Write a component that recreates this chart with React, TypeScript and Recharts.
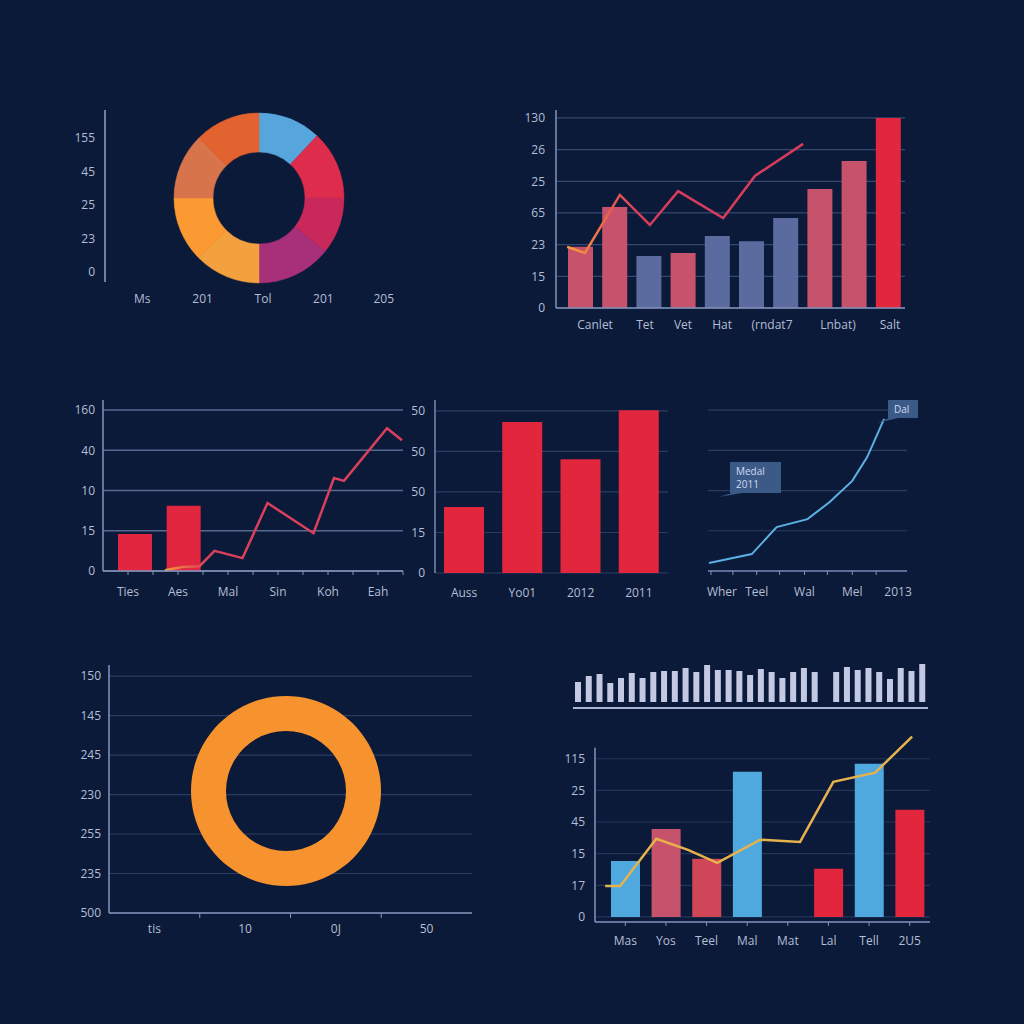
import React from "react";
import {
  ComposedChart,
  BarChart,
  Bar,
  Line,
  XAxis,
  YAxis,
  CartesianGrid,
  Cell,
  PieChart,
  Pie,
  ReferenceLine,
} from "recharts";

const BG = "#0b1a38";
const TXT = "#b4bed6";
const AXIS = "#8393bb";
const GRID = "#2a3c64";
const FONT = "'Open Sans', 'Noto Sans', sans-serif";

// top-left donut panel
const p1Slices = [43, 47, 39, 51, 45, 45, 45, 45];
const p1Colors = ["#56a5dc", "#de2c4c", "#c8285a", "#a8307a", "#f3a03e", "#fb9a32", "#d8744c", "#e2632f"];
const p1YLabels = ["0", "23", "25", "45", "155"];
const p1XLabels = ["Ms", "201", "Tol", "201", "205"];

// top-right bars + line
const p2Bars = [1.93, 3.19, 1.64, 1.74, 2.27, 2.11, 2.84, 3.76, 4.64, 6.0];
const p2Kinds = ["rose", "rose", "slate", "rose", "slate", "slate", "slate", "rose", "rose", "red"];
const p2LineX = [0.32, 0.83, 1.83, 2.69, 3.5, 4.79, 5.7, 7.08];
const p2LineY = [1.93, 1.74, 3.57, 2.62, 3.69, 2.84, 4.17, 5.18];
const p2XLabels = ["Canlet", "Tet", "Vet", "Hat", "(rndat7", "Lnbat)", "Salt"];
const p2XLabelPos = [1.12, 2.55, 3.64, 4.76, 6.19, 8.08, 9.57];
const p2YLabels = ["0", "15", "23", "65", "25", "26", "130"];

// middle-left bars + line
const p3Cats = ["Ties", "Aes", "Mal", "Sin", "Koh", "Eah"];
const p3Bars = [0.92, 1.62, 0, 0, 0, 0];
const p3LineX = [1.24, 1.59, 1.93, 2.23, 2.79, 3.29, 4.21, 4.62, 4.82, 5.68, 5.98];
const p3LineY = [0.02, 0.1, 0.12, 0.5, 0.32, 1.69, 0.94, 2.31, 2.24, 3.55, 3.25];
const p3YLabels = ["0", "15", "10", "40", "160"];

// middle bars
const p4Cats = ["Auss", "Yo01", "2012", "2011"];
const p4Vals = [1.63, 3.73, 2.81, 4.02];
const p4YLabels = ["0", "15", "50", "50", "50"];

// middle-right line
const p5LineX = [0.05, 2.2, 3.45, 5.0, 6.1, 7.25, 8.0, 8.85];
const p5LineY = [0.2, 0.42, 1.09, 1.29, 1.71, 2.24, 2.83, 3.78];
const p5TickPos = [0.15, 0.7, 1.25, 2.45, 3.6, 4.85, 6.0, 7.25, 8.45, 9.55];
const p5TickLabels = ["", "Wher", "", "Teel", "", "Wal", "", "Mel", "", "2013"];
const p5TickMarks = [true, false, true, true, true, true, true, true, true, false];

// bottom-left ring
const p6YLabels = ["500", "235", "255", "230", "245", "145", "150"];
const p6XLabels = ["tis", "10", "0J", "50"];
const p6Ring = [1];

// bottom-right strip
const p7Strip = [20, 26, 28, 19, 24, 29, 24, 30, 31, 31, 34, 30, 37, 32, 32, 31, 27, 33, 30, 24, 30, 34, 30, 0, 30, 35, 32, 34, 30, 23, 34, 31, 38];

// bottom-right bars + line
const p7Cats = ["Mas", "Yos", "Teel", "Mal", "Mat", "Lal", "Tell", "2U5"];
const p7Vals = [1.77, 2.78, 1.84, 4.59, 0, 1.52, 4.84, 3.39];
const p7Kinds = ["blue", "rose", "rose2", "blue", "blue", "red", "blue", "red"];
const p7LineX = [0, 0.37, 1.26, 2.04, 2.76, 3.82, 4.8, 5.62, 6.65, 7.56];
const p7LineY = [0.98, 0.98, 2.47, 2.12, 1.71, 2.44, 2.37, 4.27, 4.56, 5.7];
const p7YLabels = ["0", "17", "15", "45", "25", "115"];

const kindColor: Record<string, string> = {
  rose: "#c6526b",
  slate: "#5b6b9f",
  red: "#e2263e",
  rose2: "#cf4659",
  blue: "#4fa9df",
};

const tickStyle = { fill: TXT, fontSize: 12 };

function bottomTick(labels: string[], marks: boolean[], back: number, markLen: number) {
  return (props: any) => {
    const { x, y, index } = props;
    const label = labels[index] || "";
    const ay = y - back;
    return (
      <g>
        {marks[index] ? <line x1={x} x2={x} y1={ay} y2={ay + markLen} stroke={AXIS} strokeWidth={1} /> : null}
        {label ? (
          <text x={x} y={y} dy="0.71em" textAnchor="middle" fill={TXT} fontSize={12}>
            {label}
          </text>
        ) : null}
      </g>
    );
  };
}

const Box = ({ x, y, children }: { x: number; y: number; children: React.ReactNode }) => (
  <div style={{ position: "absolute", left: x, top: y }}>{children}</div>
);

function Panel1() {
  const data = p1XLabels.map((_, i) => ({ k: i, z: 0 }));
  return (
    <>
      <Box x={60} y={100}>
        <ComposedChart width={360} height={220} data={data} margin={{ top: 10, right: 6, bottom: 8, left: 0 }}>
          <XAxis dataKey="k" type="category" scale="band" height={30} axisLine={false} tickLine={false}
            tickMargin={6} padding={{ left: 7, right: 0 }} interval={0} tick={tickStyle}
            tickFormatter={(_v, i) => p1XLabels[i]} />
          <YAxis type="number" width={45} domain={[-0.3, 4.84]} ticks={[0, 1, 2, 3, 4]} interval={0}
            tickLine={false} tickSize={8} axisLine={{ stroke: "#95a3c6", strokeWidth: 1.5 }} tick={tickStyle}
            tickFormatter={(v) => p1YLabels[Math.round(v)]} />
          <Line dataKey="z" stroke="none" dot={false} isAnimationActive={false} />
        </ComposedChart>
      </Box>
      <Box x={159} y={98}>
        <PieChart width={200} height={200} margin={{ top: 0, right: 0, bottom: 0, left: 0 }}>
          <Pie data={p1Slices.map((v) => ({ v }))} dataKey="v" cx={100} cy={100} innerRadius={46} outerRadius={85}
            startAngle={90} endAngle={-270} isAnimationActive={false}>
            {p1Slices.map((_, i) => (
              <Cell key={i} fill={p1Colors[i]} stroke={p1Colors[i]} strokeWidth={0.5} />
            ))}
          </Pie>
        </PieChart>
      </Box>
    </>
  );
}

function Panel2() {
  const data = p2Bars.map((v, i) => ({ k: i, v }));
  const line = p2LineX.map((x, i) => ({ x, y: p2LineY[i] }));
  return (
    <Box x={520} y={100}>
      <ComposedChart width={400} height={240} data={data} margin={{ top: 10, right: 15, bottom: 8, left: 0 }}>
        <defs>
          <linearGradient id="g2" x1="0" y1="0" x2="1" y2="0">
            <stop offset="0" stopColor="#f5a23c" />
            <stop offset="0.18" stopColor="#e8604c" />
            <stop offset="0.3" stopColor="#d83c5c" />
            <stop offset="1" stopColor="#d83c5c" />
          </linearGradient>
        </defs>
        <CartesianGrid xAxisId="num" vertical={false} syncWithTicks stroke="#34476f" strokeWidth={1.2} />
        <XAxis xAxisId="num" dataKey="x" type="number" domain={[0, 10]} ticks={p2XLabelPos} interval={0}
          height={24} tickLine={false} tickMargin={6} axisLine={{ stroke: AXIS, strokeWidth: 1.5 }} tick={tickStyle}
          tickFormatter={(v) => p2XLabels[p2XLabelPos.indexOf(v)]} />
        <XAxis xAxisId="cat" dataKey="k" type="category" hide height={0} padding={{ left: 7, right: 0 }} />
        <YAxis type="number" width={36} domain={[0, 6.25]} ticks={[0, 1, 2, 3, 4, 5, 6]} interval={0}
          tickLine={false} tickMargin={5} axisLine={{ stroke: AXIS, strokeWidth: 1.5 }} tick={tickStyle}
          tickFormatter={(v) => p2YLabels[Math.round(v)]} />
        <Bar xAxisId="cat" dataKey="v" barSize={25} isAnimationActive={false}>
          {p2Kinds.map((k, i) => (
            <Cell key={i} fill={kindColor[k]} />
          ))}
        </Bar>
        <Line xAxisId="num" data={line} dataKey="y" type="linear" stroke="url(#g2)" strokeWidth={2.5} dot={false}
          isAnimationActive={false} />
      </ComposedChart>
    </Box>
  );
}

function Panel3() {
  const data = p3Cats.map((name, i) => ({ name, v: p3Bars[i] }));
  const line = p3LineX.map((x, i) => ({ x, y: p3LineY[i] }));
  const ticks = Array.from({ length: 13 }, (_, i) => i / 2);
  const labels = ticks.map((_, i) => (i % 2 ? p3Cats[(i - 1) / 2] : ""));
  const marks = ticks.map((_, i) => i > 0);
  return (
    <Box x={60} y={390}>
      <ComposedChart width={360} height={220} data={data} margin={{ top: 10, right: 17, bottom: 9, left: 0 }}>
        <defs>
          <linearGradient id="g3" x1="0" y1="0" x2="1" y2="0">
            <stop offset="0" stopColor="#f3a03a" />
            <stop offset="0.1" stopColor="#e4604e" />
            <stop offset="0.18" stopColor="#da405c" />
            <stop offset="1" stopColor="#da405c" />
          </linearGradient>
        </defs>
        <CartesianGrid xAxisId="num" vertical={false} syncWithTicks stroke="#56688f" strokeWidth={1.5} />
        <XAxis xAxisId="num" dataKey="x" type="number" domain={[0, 6]} ticks={ticks} interval={0} height={30}
          tickLine={false} tickSize={6} tickMargin={10} axisLine={{ stroke: AXIS, strokeWidth: 1.5 }}
          tick={bottomTick(labels, marks, 16, 4)} />
        <XAxis xAxisId="cat" dataKey="name" type="category" hide height={0} padding={{ left: 8, right: 0 }} />
        <YAxis type="number" width={43} domain={[0, 4.25]} ticks={[0, 1, 2, 3, 4]} interval={0} tickLine={false}
          axisLine={{ stroke: AXIS, strokeWidth: 1.5 }} tick={tickStyle} tickFormatter={(v) => p3YLabels[Math.round(v)]} />
        <Bar xAxisId="cat" dataKey="v" barSize={34} fill="#e2263f" isAnimationActive={false} />
        <Line xAxisId="num" data={line} dataKey="y" type="linear" stroke="url(#g3)" strokeWidth={2.5} dot={false}
          isAnimationActive={false} />
      </ComposedChart>
    </Box>
  );
}

function Panel4() {
  const data = p4Cats.map((name, i) => ({ name, v: p4Vals[i] }));
  return (
    <Box x={400} y={390}>
      <ComposedChart width={280} height={220} data={data} margin={{ top: 10, right: 12, bottom: 8, left: 0 }}>
        <CartesianGrid vertical={false} syncWithTicks stroke={GRID} strokeWidth={1.2} />
        <XAxis dataKey="name" type="category" height={29} axisLine={false} tickLine={false} tickSize={6}
          tickMargin={9} interval={0} tick={tickStyle} />
        <YAxis type="number" width={35} domain={[0, 4.27]} ticks={[0, 1, 2, 3, 4]} interval={0} tickLine={false}
          tickMargin={4} axisLine={{ stroke: "#7a8ab3", strokeWidth: 1.5 }} tick={tickStyle}
          tickFormatter={(v) => p4YLabels[Math.round(v)]} />
        <Bar dataKey="v" barSize={40} fill="#e2263e" isAnimationActive={false} />
      </ComposedChart>
    </Box>
  );
}

function Panel5() {
  const line = p5LineX.map((x, i) => ({ x, y: p5LineY[i] }));
  return (
    <>
      <Box x={690} y={390}>
        <ComposedChart width={240} height={220} data={line} margin={{ top: 10, right: 23, bottom: 9, left: 18 }}>
          <CartesianGrid vertical={false} syncWithTicks stroke={GRID} strokeWidth={1.2} />
          <XAxis dataKey="x" type="number" domain={[0, 10]} ticks={p5TickPos} interval={0} height={30}
            tickLine={false} tickSize={6} tickMargin={10} axisLine={{ stroke: "#6f82b0", strokeWidth: 1.5 }}
            tick={bottomTick(p5TickLabels, p5TickMarks, 16, 4)} />
          <YAxis type="number" hide domain={[0, 4.25]} ticks={[0, 1, 2, 3, 4]} />
          <Line dataKey="y" type="linear" stroke="#5cb0e4" strokeWidth={2} dot={false} isAnimationActive={false} />
        </ComposedChart>
      </Box>
      <Box x={700} y={390}>
        <svg width={240} height={120} style={{ display: "block" }}>
          <path d="M30 72 H81 V103 H42 L19 107 L32 103 H30 Z" fill="#3c5a88" />
          <text x={36} y={85} fill="#d0daf0" fontSize={10}>Medal</text>
          <text x={36} y={98} fill="#d0daf0" fontSize={10}>2011</text>
          <path d="M188 10 H218 V28 H198 L177 33 L189 28 H188 Z" fill="#3c5a88" />
          <text x={194} y={23} fill="#d0daf0" fontSize={10}>Dal</text>
        </svg>
      </Box>
    </>
  );
}

function Panel6() {
  const data = p6XLabels.map((_, i) => ({ x: i + 0.5, z: 0 }));
  const ticks = [0.5, 1, 1.5, 2, 2.5, 3, 3.5];
  const labels = ticks.map((_, i) => (i % 2 ? "" : p6XLabels[i / 2]));
  const marks = ticks.map((_, i) => i % 2 === 1);
  return (
    <>
      <Box x={60} y={650}>
        <ComposedChart width={430} height={300} data={data} margin={{ top: 15, right: 18, bottom: 8, left: 0 }}>
          <CartesianGrid vertical={false} syncWithTicks stroke={GRID} strokeWidth={1.2} />
          <XAxis dataKey="x" type="number" domain={[0, 4]} ticks={ticks} interval={0} height={29} tickLine={false}
            tickSize={6} tickMargin={5} axisLine={{ stroke: AXIS, strokeWidth: 1.5 }}
            tick={bottomTick(labels, marks, 11, 5)} />
          <YAxis type="number" width={49} domain={[0, 6.28]} ticks={[0, 1, 2, 3, 4, 5, 6]} interval={0}
            tickLine={false} axisLine={{ stroke: AXIS, strokeWidth: 1.5 }} tick={tickStyle}
            tickFormatter={(v) => p6YLabels[Math.round(v)]} />
          <Line dataKey="z" stroke="none" dot={false} isAnimationActive={false} />
        </ComposedChart>
      </Box>
      <Box x={186} y={691}>
        <PieChart width={200} height={200} margin={{ top: 0, right: 0, bottom: 0, left: 0 }}>
          <Pie data={p6Ring.map((v) => ({ v }))} dataKey="v" cx={100} cy={100} innerRadius={60} outerRadius={95}
            startAngle={90} endAngle={-270} fill="#f7932f" stroke="none" isAnimationActive={false} />
        </PieChart>
      </Box>
    </>
  );
}

function Panel7() {
  const strip = p7Strip.map((v, i) => ({ i, v }));
  const data = p7Cats.map((name, i) => ({ name, v: p7Vals[i] }));
  const line = p7LineX.map((x, i) => ({ x, y: p7LineY[i] }));
  return (
    <>
      <Box x={565} y={650}>
        <BarChart width={375} height={65} data={strip} margin={{ top: 10, right: 12, bottom: 5, left: 8 }}>
          <XAxis dataKey="i" type="category" height={2} tick={false} tickLine={false}
            axisLine={{ stroke: "#a9b3d3", strokeWidth: 2 }} />
          <YAxis type="number" hide domain={[-6, 42]} />
          <Bar dataKey="v" barSize={6} fill="#c3c9e3" isAnimationActive={false} />
        </BarChart>
      </Box>
      <Box x={560} y={730}>
        <ComposedChart width={380} height={225} data={data} margin={{ top: 5, right: 10, bottom: 8, left: 0 }}>
          <CartesianGrid xAxisId="cat" vertical={false} syncWithTicks stroke="#22345a" strokeWidth={1.2} />
          <XAxis xAxisId="cat" dataKey="name" type="category" height={25} padding={{ left: 10, right: 0 }}
            interval={0} tickSize={4} tickMargin={10} tickLine={{ stroke: AXIS }}
            axisLine={{ stroke: AXIS, strokeWidth: 1.5 }} tick={tickStyle} />
          <XAxis xAxisId="num" dataKey="x" type="number" hide height={0} domain={[-0.25, 8]} />
          <YAxis type="number" width={35} domain={[-0.16, 5.75]} ticks={[0, 1, 2, 3, 4, 5]} interval={0}
            tickLine={false} tickMargin={4} axisLine={false} tick={tickStyle}
            tickFormatter={(v) => p7YLabels[Math.round(v)]} />
          <ReferenceLine xAxisId="num" segment={[{ x: -0.25, y: -0.16 }, { x: -0.25, y: 5.35 }]}
            stroke={AXIS} strokeWidth={1.5} ifOverflow="visible" />
          <Bar xAxisId="cat" dataKey="v" barSize={29} isAnimationActive={false}>
            {p7Kinds.map((k, i) => (
              <Cell key={i} fill={kindColor[k]} />
            ))}
          </Bar>
          <Line xAxisId="num" data={line} dataKey="y" type="linear" stroke="#e6b24c" strokeWidth={2.5} dot={false}
            isAnimationActive={false} />
        </ComposedChart>
      </Box>
    </>
  );
}

export default function App() {
  return (
    <div style={{ position: "absolute", left: 0, top: 0, width: 1024, height: 1024, background: BG, overflow: "hidden", fontFamily: FONT }}>
      <Panel1 />
      <Panel2 />
      <Panel3 />
      <Panel4 />
      <Panel5 />
      <Panel6 />
      <Panel7 />
    </div>
  );
}
